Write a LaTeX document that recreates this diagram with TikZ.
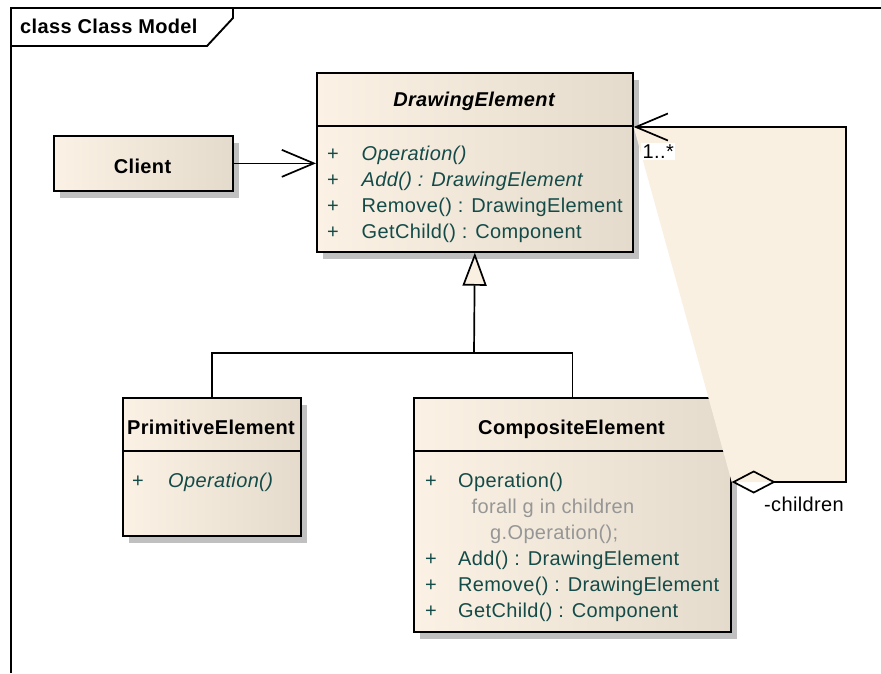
\documentclass[tikz,border=0pt]{standalone}
\usepackage{fontspec}
\setmainfont[LetterSpace=1.8]{Liberation Sans}
\usetikzlibrary{arrows.meta,shadows}

\definecolor{boxleft}{RGB}{251,242,229}
\definecolor{boxright}{RGB}{228,219,204}
\definecolor{assocfill}{RGB}{250,240,225}
\definecolor{membertext}{RGB}{20,75,72}
\definecolor{codegray}{RGB}{150,150,150}
\definecolor{shadowgray}{RGB}{192,192,192}

\tikzset{
  classbox/.style={draw=black, line width=1.7pt, left color=boxleft, right color=boxright,
    inner sep=0pt, anchor=north west,
    drop shadow={shadow xshift=6pt, shadow yshift=-7pt, fill=shadowgray, opacity=1}},
  classtitle/.style={font=\fontsize{20}{24}\selectfont\bfseries, inner sep=0pt, anchor=base},
  member/.style={font=\fontsize{20}{24}\selectfont, text=membertext, inner sep=0pt, anchor=base west},
  abstractmember/.style={member, font=\fontsize{20}{24}\selectfont\itshape},
  codeline/.style={member, text=codegray},
  plainlabel/.style={font=\fontsize{20}{24}\selectfont, inner sep=0pt, anchor=base west},
  conn/.style={line width=1.7pt, draw=black},
  sep/.style={line width=1.7pt},
  barb/.tip={Straight Barb[length=32pt, width=27pt]},
}

\begin{document}
\begin{tikzpicture}[x=1pt, y=-1pt]
\useasboundingbox (0,0) rectangle (881,673);

% diagram frame with its name tab
\draw[line width=1.9pt] (11,673) -- (11,8) -- (881,8);
\draw[line width=1.9pt] (11,46) -- (207,46) -- (233,18) -- (233,8);
\node[plainlabel, font=\fontsize{20}{24}\selectfont\bfseries] (frametitle) at (20,33) {class Class Model};

% DrawingElement (abstract)
\node[classbox, minimum width=316pt, minimum height=179pt] (de) at (316,72) {};
\draw[sep] (de.west |- 0,126) -- (de.east |- 0,126);
\node[classtitle, font=\fontsize{20}{24}\selectfont\bfseries\itshape] (detitle) at (474,106) {DrawingElement};
\node[member] (dep1) at (327,160.5) {+};
\node[abstractmember] (dem1) at (361.5,160.5) {Operation()};
\node[member] (dep2) at (327,186.5) {+};
\node[abstractmember] (dem2) at (361.5,186.5) {Add() : DrawingElement};
\node[member] (dep3) at (327,212.5) {+};
\node[member] (dem3) at (361.5,212.5) {Remove() : DrawingElement};
\node[member] (dep4) at (327,238.5) {+};
\node[member] (dem4) at (361.5,238.5) {GetChild() : Component};

% Client
\node[classbox, minimum width=179pt, minimum height=55pt] (client) at (53,135) {};
\node[classtitle] (clienttitle) at (142.5,173) {Client};

% PrimitiveElement
\node[classbox, minimum width=178pt, minimum height=138pt] (prim) at (122,397) {};
\draw[sep] (prim.west |- 0,451) -- (prim.east |- 0,451);
\node[classtitle] (primtitle) at (211,434) {PrimitiveElement};
\node[member] (primp1) at (132,487) {+};
\node[abstractmember] (primm1) at (168,487) {Operation()};

% CompositeElement
\node[classbox, minimum width=317pt, minimum height=234pt] (comp) at (413,397) {};
\draw[sep] (comp.west |- 0,451) -- (comp.east |- 0,451);
\node[classtitle] (comptitle) at (571.5,434) {CompositeElement};
\node[member] (compp1) at (425,487) {+};
\node[member] (compm1) at (458,487) {Operation()};
\node[codeline] (compc1) at (471.5,513) {forall g in children};
\node[codeline] (compc2) at (490,539) {g.Operation();};
\node[member] (compp2) at (425,565) {+};
\node[member] (compm2) at (458,565) {Add() : DrawingElement};
\node[member] (compp3) at (425,591) {+};
\node[member] (compm3) at (458,591) {Remove() : DrawingElement};
\node[member] (compp4) at (425,617) {+};
\node[member] (compm4) at (458,617) {GetChild() : Component};

% route of the children self-association
\coordinate (sa1) at (846,482);
\coordinate (sa2) at (846,127);
\fill[assocfill] (de.east |- sa2) -- (sa2) -- (sa1) -- (comp.east |- sa1) -- cycle;

% Client uses DrawingElement
\draw[conn, -{barb}] (client.east) -- (client.east -| de.west);

% generalization
\coordinate (gj) at (474,353);
\draw[conn] (prim.north) |- (gj);
\draw[conn] (comp.north) |- (gj);
\draw[conn, -{Triangle[length=33pt, width=24pt, fill=assocfill]}] (gj) -- (de.south);

% aggregation of children
\draw[conn, {Diamond[open, length=44pt, width=23pt]}-{barb}]
  (comp.east |- sa1) -- (sa1) -- (sa2) -- (de.east |- sa2);
\node[plainlabel, fill=white, inner sep=1.5pt] (mult) at (641,158) {1..*};
\node[plainlabel] (role) at (764,511) {-children};
\end{tikzpicture}
\end{document}
